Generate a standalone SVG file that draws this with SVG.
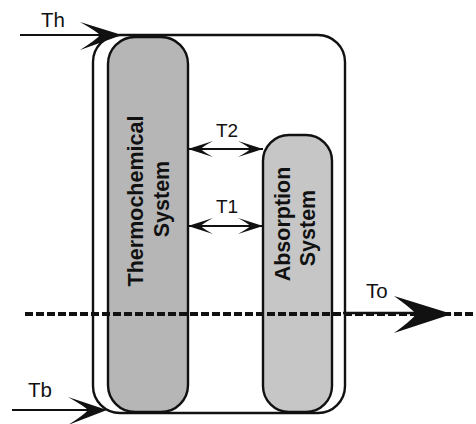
<svg xmlns="http://www.w3.org/2000/svg" width="476" height="424" viewBox="0 0 476 424">
<style>
.box{stroke:#111;stroke-width:2.4}
.lbl{font-family:"Liberation Sans",Arial,sans-serif;font-size:20.5px;fill:#111}
.tl{font-family:"Liberation Sans",Arial,sans-serif;font-size:19px;fill:#111}
.name{font-family:"Liberation Sans",Arial,sans-serif;font-size:21.5px;font-weight:bold;fill:#111;text-anchor:middle}
.ln{stroke:#111;stroke-width:2.2;fill:none}
.head{fill:#111}
</style>
<defs>
<marker id="dh" viewBox="0 0 26 18" refX="26" refY="9" markerWidth="26" markerHeight="18" markerUnits="userSpaceOnUse" orient="auto-start-reverse">
<path d="M26,9 L1,1 Q12,7 13,9 Q12,11 1,17 Z" fill="#111"/>
</marker>
</defs>
<rect width="476" height="424" fill="#fff"/>
<g id="outer">
<rect class="box" x="93" y="35" width="252" height="378" rx="27" fill="none"/>
</g>
<g id="thermochemical">
<rect class="box" x="108" y="37" width="80" height="375" rx="27" fill="#b6b6b6"/>
<text class="name" transform="translate(143,201) rotate(-90)">Thermochemical</text>
<text class="name" transform="translate(168.5,199) rotate(-90)">System</text>
</g>
<g id="absorption">
<rect class="box" x="263" y="135" width="69" height="277" rx="26" fill="#c6c6c6"/>
<text class="name" transform="translate(290,224) rotate(-90)">Absorption</text>
<text class="name" transform="translate(314.5,228) rotate(-90)">System</text>
</g>
<g id="connectors">
<line x1="25" y1="314" x2="476" y2="314" stroke="#111" stroke-width="4" stroke-dasharray="8,3"/>
<line class="ln" x1="20" y1="35" x2="110" y2="35"/>
<path class="head" d="M122,35 L80,22 Q96,31 100,35 Q96,40 80,50 Z"/>
<line class="ln" x1="12" y1="410" x2="95" y2="410"/>
<path class="head" d="M107,410 L68,397 Q84,406 88,410 Q84,415 68,425 Z"/>
<line x1="343" y1="313" x2="420" y2="313" stroke="#111" stroke-width="2.5"/>
<path class="head" d="M452,314 L394,296 Q412,309 416,314 Q412,320 394,333 Z"/>
<line class="ln" x1="188" y1="149" x2="263" y2="149" marker-start="url(#dh)" marker-end="url(#dh)"/>
<line class="ln" x1="188" y1="226" x2="263" y2="226" marker-start="url(#dh)" marker-end="url(#dh)"/>
</g>
<g id="labels">
<text class="lbl" x="41" y="27">Th</text>
<text class="lbl" x="28" y="397">Tb</text>
<text class="lbl" x="366" y="298">To</text>
<text class="tl" x="216" y="137">T2</text>
<text class="tl" x="216" y="213">T1</text>
</g>
</svg>
